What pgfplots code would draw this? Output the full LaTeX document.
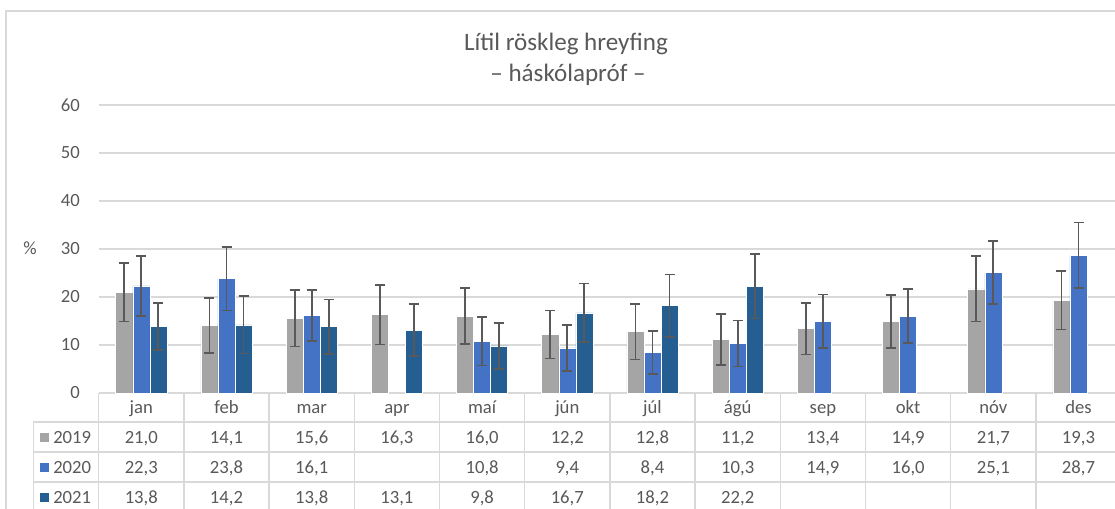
\documentclass[border=0pt]{standalone}
\usepackage{fontspec}
\setmainfont{Carlito}
\usepackage{pgfplots}
\usepackage{pgfplotstable}
\pgfplotsset{compat=1.18}
\definecolor{cA}{HTML}{A5A5A5}
\definecolor{cB}{HTML}{4472C4}
\definecolor{cC}{HTML}{255E91}
\definecolor{txt}{HTML}{595959}
\definecolor{grd}{HTML}{D9D9D9}

\pgfplotstableread{
x y e
0 21.0 6.1
1 14.1 5.7
2 15.6 5.9
3 16.3 6.2
4 16.0 5.8
5 12.2 5.0
6 12.8 5.8
7 11.2 5.3
8 13.4 5.4
9 14.9 5.5
10 21.7 6.8
11 19.3 6.1
}\tabA
\pgfplotstableread{
x y e
0 22.3 6.3
1 23.8 6.6
2 16.1 5.3
4 10.8 5.1
5 9.4 4.8
6 8.4 4.5
7 10.3 4.8
8 14.9 5.6
9 16.0 5.6
10 25.1 6.6
11 28.7 6.8
}\tabB
\pgfplotstableread{
x y e
0 13.8 4.9
1 14.2 6.0
2 13.8 5.7
3 13.1 5.4
4 9.8 4.8
5 16.7 6.1
6 18.2 6.5
7 22.2 6.7
}\tabC

\newcommand{\tfont}{\fontsize{14}{16}\selectfont}

\begin{document}
\begin{tikzpicture}
\useasboundingbox (0,0) rectangle (836.25pt,381.75pt);
\clip (0,0) rectangle (836.25pt,381.75pt);
\begin{axis}[
  at={(74.025pt,87pt)}, anchor=south west, scale only axis,
  width=766.8pt, height=216pt,
  xmin=-0.5, xmax=11.5, ymin=0, ymax=60,
  ytick={0,10,...,60}, xtick=\empty,
  ymajorgrids, grid style={grd, line width=1.1pt},
  axis line style={draw=none}, major tick length=0pt,
  tick label style={font=\tfont, text=txt},
  yticklabel style={inner sep=0pt, xshift=-14pt},
  /pgf/number format/assume math mode=true,
  ybar, bar width=0.2, clip=false,
  error bars/y dir=both, error bars/y explicit,
  error bars/error bar style={draw=txt, line width=1.3pt},
  error bars/error mark options={rotate=90, draw=txt, line width=1.3pt, mark size=3.75pt},
]
\addplot[fill=cA, draw=white, line width=0.4pt, bar shift=-0.2] table[x=x,y=y,y error=e]{\tabA};
\addplot[fill=cB, draw=white, line width=0.4pt, bar shift=0] table[x=x,y=y,y error=e]{\tabB};
\addplot[fill=cC, draw=white, line width=0.4pt, bar shift=0.2] table[x=x,y=y,y error=e]{\tabC};
\end{axis}
\begin{scope}[x=0.75pt,y=0.75pt]
\draw[grd, line width=1.1pt] (6,-20) -- (6,498) -- (1140,498);
% data table grid
\foreach \k in {0,...,12} \draw[grd, line width=1.1pt] ({98.7+85.2*\k},116) -- ({98.7+85.2*\k},-10);
\foreach \yy in {87,57,27} \draw[grd, line width=1.1pt] (33.3,\yy) -- (1140,\yy);
\draw[grd, line width=1.1pt] (33.3,87) -- (33.3,-10);
% header
\foreach \lab [count=\i from 0] in {jan,feb,mar,apr,maí,jún,júl,ágú,sep,okt,nóv,des}
  \node[anchor=base, text=txt, font=\tfont, inner sep=0pt] at ({98.7+85.2*(\i+0.5)},95.7) {\lab};
\foreach \val [count=\i from 0] in {{21,0},{14,1},{15,6},{16,3},{16,0},{12,2},{12,8},{11,2},{13,4},{14,9},{21,7},{19,3}}
  \node[anchor=base, text=txt, font=\tfont, inner sep=0pt] at ({98.7+85.2*(\i+0.5)},65.7) {\val};
\foreach \val [count=\i from 0] in {{22,3},{23,8},{16,1},{},{10,8},{9,4},{8,4},{10,3},{14,9},{16,0},{25,1},{28,7}}
  \node[anchor=base, text=txt, font=\tfont, inner sep=0pt] at ({98.7+85.2*(\i+0.5)},35.7) {\val};
\foreach \val [count=\i from 0] in {{13,8},{14,2},{13,8},{13,1},{9,8},{16,7},{18,2},{22,2},{},{},{},{}}
  \node[anchor=base, text=txt, font=\tfont, inner sep=0pt] at ({98.7+85.2*(\i+0.5)},5.7) {\val};
% legend keys
\fill[cA] (40,67.3) rectangle (49.3,76.3);
\fill[cB] (40,37.3) rectangle (49.3,46.3);
\fill[cC] (40,7.3) rectangle (49.3,16.3);
\node[anchor=base west, text=txt, font=\tfont, inner sep=0pt] at (53,65.7) {2019};
\node[anchor=base west, text=txt, font=\tfont, inner sep=0pt] at (53,35.7) {2020};
\node[anchor=base west, text=txt, font=\tfont, inner sep=0pt] at (53,5.7) {2021};
% titles
\node[anchor=base, text=txt, font=\fontsize{18.8}{22}\selectfont, inner sep=0pt] at (566,458) {Lítil röskleg hreyfing};
\node[anchor=base, text=txt, font=\fontsize{18.8}{22}\selectfont, inner sep=0pt] at (568,427.3) {– háskólapróf –};
\node[text=txt, font=\tfont] at (30,261) {\%};
\end{scope}
\end{tikzpicture}
\end{document}
